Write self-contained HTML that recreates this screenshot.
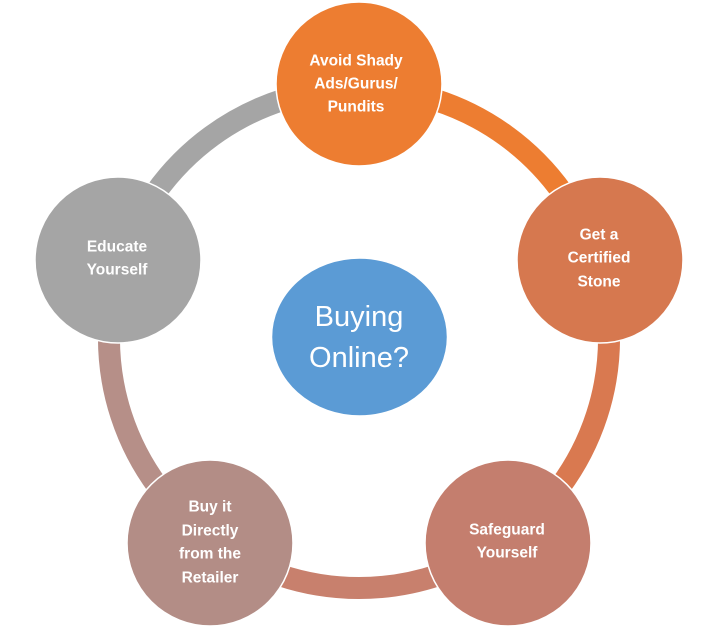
<!DOCTYPE html>
<html><head><meta charset="utf-8"><style>
html,body{margin:0;padding:0;background:#fff;}
svg{display:block}
text{font-family:"Liberation Sans",sans-serif;fill:#fff;text-anchor:middle;dominant-baseline:central}
.b{font-weight:bold;font-size:15.5px}
</style></head><body>
<svg width="713" height="627" viewBox="0 0 713 627" xmlns="http://www.w3.org/2000/svg">
<g fill="none" stroke-width="22">
<path d="M359 88 A250 250 0 0 1 596.8 260.7" stroke="#ED7D31"/>
<path d="M596.8 260.7 A250 250 0 0 1 505.9 540.3" stroke="#D97950"/>
<path d="M505.9 540.3 A250 250 0 0 1 212.1 540.3" stroke="#C8806D"/>
<path d="M212.1 540.3 A250 250 0 0 1 121.2 260.7" stroke="#B68F88"/>
<path d="M121.2 260.7 A250 250 0 0 1 359 88" stroke="#A5A5A5"/>
</g>
<g stroke="#fff" stroke-width="1.5">
<ellipse cx="359" cy="84" rx="83" ry="82" fill="#ED7D31"/>
<ellipse cx="600" cy="260" rx="83" ry="83" fill="#D6784F"/>
<ellipse cx="508" cy="543" rx="83" ry="83" fill="#C47E6E"/>
<ellipse cx="210" cy="543" rx="83" ry="83" fill="#B38D86"/>
<ellipse cx="118" cy="260" rx="83" ry="83" fill="#A5A5A5"/>
<ellipse cx="359.5" cy="337" rx="88" ry="79" fill="#5B9BD5"/>
</g>
<text class="b" x="356" y="61">Avoid Shady</text>
<text class="b" x="356" y="84">Ads/Gurus/</text>
<text class="b" x="356" y="107">Pundits</text>
<text class="b" x="599" y="235">Get a</text>
<text class="b" x="599" y="258">Certified</text>
<text class="b" x="599" y="282">Stone</text>
<text class="b" x="117" y="247">Educate</text>
<text class="b" x="117" y="270">Yourself</text>
<text class="b" x="507" y="530">Safeguard</text>
<text class="b" x="507" y="553">Yourself</text>
<text class="b" x="210" y="507">Buy it</text>
<text class="b" x="210" y="531">Directly</text>
<text class="b" x="210" y="554">from the</text>
<text class="b" x="210" y="578">Retailer</text>
<text x="359" y="317" font-size="29">Buying</text>
<text x="359" y="358" font-size="29">Online?</text>
</svg>
</body></html>
